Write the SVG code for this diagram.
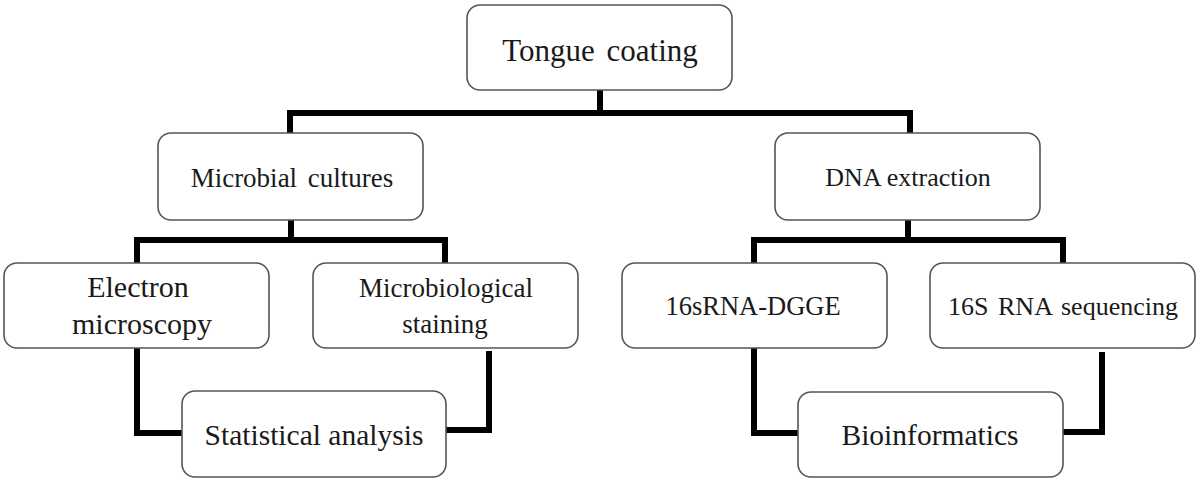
<svg xmlns="http://www.w3.org/2000/svg" width="1200" height="481" viewBox="0 0 1200 481">
<style>
.box{fill:#fff;stroke:#555;stroke-width:1.6}
.t{font-family:"Liberation Serif","Times New Roman",serif;fill:#1a1a1a;text-anchor:middle}
.c{fill:none;stroke:#000;stroke-width:6;stroke-linejoin:miter;stroke-linecap:butt}
</style>
<rect width="1200" height="481" fill="#fff"/>
<g id="connectors">
<path class="c" d="M600 90 V113 M287 113 H913 M290 113 V134 M910 113 V134"/>
<path class="c" d="M291 220 V240 M134 240 H448 M137 240 V263 M445 240 V263"/>
<path class="c" d="M908 220 V240 M751 240 H1066 M754 240 V263 M1063 240 V263"/>
<path class="c" d="M137 348 V433 H182"/>
<path class="c" d="M489 351 V430 H446"/>
<path class="c" d="M754 348 V433 H798"/>
<path class="c" d="M1102 352 V432 H1063"/>
</g>
<g id="tongue">
<rect class="box" x="467" y="5" width="265" height="85" rx="13"/>
<text class="t" x="600" y="61" font-size="31" word-spacing="4">Tongue coating</text>
</g>
<g id="microbial">
<rect class="box" x="158" y="133" width="265" height="87" rx="13"/>
<text class="t" x="292" y="187" font-size="27" word-spacing="4">Microbial cultures</text>
</g>
<g id="dna">
<rect class="box" x="775" y="133" width="265" height="87" rx="13"/>
<text class="t" x="908" y="186" font-size="26">DNA extraction</text>
</g>
<g id="electron">
<rect class="box" x="4" y="263" width="265" height="85" rx="13"/>
<text class="t" x="138" y="297" font-size="30">Electron</text>
<text class="t" x="142" y="334" font-size="30">microscopy</text>
</g>
<g id="staining">
<rect class="box" x="313" y="263" width="265" height="85" rx="13"/>
<text class="t" x="446" y="297" font-size="27">Microbiological</text>
<text class="t" x="445" y="333" font-size="27">staining</text>
</g>
<g id="dgge">
<rect class="box" x="622" y="263" width="265" height="85" rx="13"/>
<text class="t" x="753" y="315" font-size="26.5">16sRNA-DGGE</text>
</g>
<g id="sequencing">
<rect class="box" x="930" y="263" width="265" height="85" rx="13"/>
<text class="t" x="1063" y="315" font-size="26" word-spacing="3">16S RNA sequencing</text>
</g>
<g id="statistical">
<rect class="box" x="182" y="391" width="264" height="86" rx="13"/>
<text class="t" x="314" y="445" font-size="29.5">Statistical analysis</text>
</g>
<g id="bioinformatics">
<rect class="box" x="798" y="392" width="265" height="85" rx="13"/>
<text class="t" x="930" y="445" font-size="29.5">Bioinformatics</text>
</g>
</svg>
